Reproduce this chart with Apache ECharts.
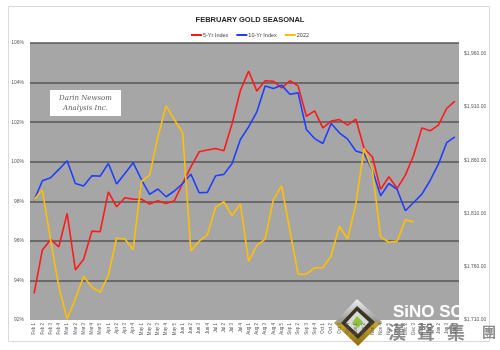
<!DOCTYPE html>
<html>
<head>
<meta charset="utf-8">
<script src="https://cdn.jsdelivr.net/npm/echarts@6/dist/echarts.min.js"></script>
<style>
  html, body { margin: 0; padding: 0; background: #ffffff; }
  #chart { width: 500px; height: 350px; }
</style>
</head>
<body>
<div id="chart"></div>
<script>
// Week labels (month + week of month), Feb through Jan
const categories = [
  'Feb 1','Feb 2','Feb 3','Feb 4',
  'Mar 1','Mar 2','Mar 3','Mar 4','Mar 5',
  'Apr 1','Apr 2','Apr 3','Apr 4',
  'May 1','May 2','May 3','May 4','May 5',
  'Jun 1','Jun 2','Jun 3','Jun 4',
  'Jul 1','Jul 2','Jul 3','Jul 4',
  'Aug 1','Aug 2','Aug 3','Aug 4','Aug 5',
  'Sep 1','Sep 2','Sep 3','Sep 4',
  'Oct 1','Oct 2','Oct 3','Oct 4',
  'Nov 1','Nov 2','Nov 3','Nov 4','Nov 5',
  'Dec 1','Dec 2','Dec 3','Dec 4',
  'Jan 1','Jan 2','Jan 3','Jan 4'
];

// 5-year seasonal index (% of start)
const fiveYrIndex = [
  93.35, 95.54, 96.07, 95.70, 97.39, 94.53, 95.07, 96.49, 96.46, 98.48,
  97.72, 98.18, 98.11, 98.10, 97.86, 98.03, 97.89, 98.03, 98.90, 99.74,
  100.50, 100.59, 100.67, 100.55, 101.93, 103.60, 104.58, 103.57, 104.09, 104.07,
  103.73, 104.09, 103.83, 102.30, 102.57, 101.71, 102.05, 102.13, 101.85, 102.15,
  100.67, 100.25, 98.60, 99.24, 98.65, 99.32, 100.33, 101.71, 101.56, 101.85,
  102.69, 103.06
];

// 10-year seasonal index (% of start)
const tenYrIndex = [
  98.05, 99.04, 99.19, 99.61, 100.05, 98.90, 98.77, 99.29, 99.27, 99.91,
  98.87, 99.41, 99.95, 99.10, 98.35, 98.62, 98.23, 98.52, 98.90, 99.37,
  98.43, 98.45, 99.29, 99.36, 99.91, 101.12, 101.76, 102.52, 103.83, 103.70,
  103.87, 103.41, 103.48, 101.63, 101.17, 100.92, 101.93, 101.46, 101.14, 100.54,
  100.42, 99.58, 98.28, 98.90, 98.60, 97.52, 97.94, 98.36, 99.05, 99.88,
  100.96, 101.26
];

// 2022 weekly settlement, $/oz
const price2022 = [
  1823, 1832, 1785, 1741, 1711, 1730, 1751, 1741, 1736, 1752,
  1787, 1786, 1776, 1840, 1846, 1882, 1911, 1898, 1886, 1775,
  1784, 1790, 1816, 1821, 1808, 1819, 1765, 1780, 1786, 1823,
  1836, 1794, 1753, 1753, 1759, 1759, 1770, 1798, 1786, 1819,
  1871, 1851, 1788, 1783, 1784, 1804, 1802, null, null, null,
  null, null
];

// Axis ranges
const pctMin = 92, pctMax = 106, pctStep = 2;
const priceMin = 1710, priceMax = 1970, priceStep = 50;

const FONT = 'Liberation Sans';
const AXIS_TEXT = '#595959';

const chart = echarts.init(document.getElementById('chart'), null, { renderer: 'canvas' });

function money(v) {
  return '$' + v.toLocaleString('en-US', { minimumFractionDigits: 2, maximumFractionDigits: 2 });
}

chart.setOption({
  backgroundColor: '#ffffff',
  animation: false,
  textStyle: { fontFamily: FONT },
  title: {
    text: 'FEBRUARY GOLD SEASONAL',
    left: 'center',
    top: 11,
    textStyle: { fontFamily: FONT, fontSize: 7.5, fontWeight: 'bold', color: '#262626' }
  },
  legend: {
    top: 27,
    left: 'center',
    itemGap: 8,
    itemWidth: 11,
    itemHeight: 2,
    icon: 'rect',
    textStyle: { fontFamily: FONT, fontSize: 5.5, color: '#404040', padding: [0, 0, 0, -4] },
    data: ['5-Yr Index', '10-Yr Index', '2022']
  },
  grid: {
    left: 30, right: 41, top: 43, bottom: 30,
    show: true,
    backgroundColor: '#a6a6a6',
    borderWidth: 0
  },
  xAxis: {
    type: 'category',
    data: categories,
    boundaryGap: true,
    axisLine: { show: false },
    axisTick: { show: false },
    axisLabel: {
      interval: 0,
      rotate: 90,
      fontSize: 4.5,
      color: AXIS_TEXT,
      margin: 3
    }
  },
  yAxis: [
    {
      type: 'value',
      min: pctMin, max: pctMax, interval: pctStep,
      axisLine: { show: false },
      axisTick: { show: false },
      axisLabel: {
        formatter: v => v + '%',
        fontSize: 5,
        color: AXIS_TEXT,
        margin: 6
      },
      splitLine: {
        show: true,
        showMinLine: false,
        lineStyle: { color: '#565656', width: 1.5 }
      }
    },
    {
      type: 'value',
      min: priceMin, max: priceMax, interval: priceStep,
      position: 'right',
      axisLine: { show: false },
      axisTick: { show: false },
      splitLine: { show: false },
      axisLabel: {
        formatter: v => money(v),
        showMaxLabel: false,
        fontSize: 5,
        color: AXIS_TEXT,
        margin: 5
      }
    }
  ],
  series: [
    {
      name: '5-Yr Index', type: 'line', data: fiveYrIndex,
      symbol: 'none', color: '#ff1a1a',
      lineStyle: { width: 1.6, color: '#ff1a1a' }
    },
    {
      name: '10-Yr Index', type: 'line', data: tenYrIndex,
      symbol: 'none', color: '#1f3fff',
      lineStyle: { width: 1.6, color: '#1f3fff' }
    },
    {
      name: '2022', type: 'line', data: price2022, yAxisIndex: 1,
      symbol: 'none', color: '#ffc000',
      lineStyle: { width: 1.6, color: '#ffc000' }
    }
  ],
  graphic: [
    // chart frame
    {
      type: 'rect', z: -1,
      shape: { x: 8.5, y: 6.5, width: 481, height: 335 },
      style: { fill: 'none', stroke: '#d9d9d9', lineWidth: 1 }
    },
    // author box
    {
      type: 'group', left: 50, top: 90, z: 10,
      children: [
        { type: 'rect', shape: { x: 0, y: 0, width: 71, height: 26 }, style: { fill: '#ffffff' } },
        { type: 'text', style: { x: 35.5, y: 8, text: 'Darin Newsom', align: 'center', verticalAlign: 'middle',
          font: 'italic 7px "DejaVu Serif"', fill: '#595959' } },
        { type: 'text', style: { x: 35.5, y: 18, text: 'Analysis Inc.', align: 'center', verticalAlign: 'middle',
          font: 'italic 7px "DejaVu Serif"', fill: '#595959' } }
      ]
    },
    // company mark
    {
      type: 'group', z: 20,
      children: [
        { type: 'polygon', shape: { points: [[357, 299], [382, 322], [358, 346], [334, 323]] },
          style: { fill: new echarts.graphic.LinearGradient(0, 0, 0, 1, [
            { offset: 0, color: '#f2f2f2' }, { offset: 0.45, color: '#9a9a9a' },
            { offset: 0.55, color: '#c9a227' }, { offset: 1, color: '#8a6d12' }]) } },
        { type: 'polygon', shape: { points: [[357, 306], [375, 322], [358, 339], [341, 323]] },
          style: { fill: '#3b3524' } },
        { type: 'polygon', shape: { points: [[357, 311], [369, 322], [358, 334], [346, 323]] },
          style: { fill: '#d9d9d9' } },
        { type: 'polygon', shape: { points: [[357, 316], [363, 322], [358, 328], [352, 323]] },
          style: { fill: '#8cc63f' } },
        { type: 'text', style: { x: 393, y: 312, text: 'SiNO SO', verticalAlign: 'middle',
          font: 'bold 17px "Liberation Sans"', fill: '#ffffff' } },
        { type: 'text', style: { x: 388, y: 332, text: '漢', verticalAlign: 'middle',
          font: 'bold 18px "Noto Sans CJK TC"', fill: '#8c8c8c' } },
        { type: 'text', style: { x: 417, y: 332, text: '聲', verticalAlign: 'middle',
          font: 'bold 18px "Noto Sans CJK TC"', fill: '#8c8c8c' } },
        { type: 'text', style: { x: 447, y: 332, text: '集', verticalAlign: 'middle',
          font: 'bold 18px "Noto Sans CJK TC"', fill: '#8c8c8c' } },
        { type: 'text', style: { x: 482, y: 332, text: '團', verticalAlign: 'middle',
          font: 'bold 14px "Noto Sans CJK TC"', fill: '#8c8c8c' } }
      ]
    }
  ]
});
</script>
</body>
</html>
